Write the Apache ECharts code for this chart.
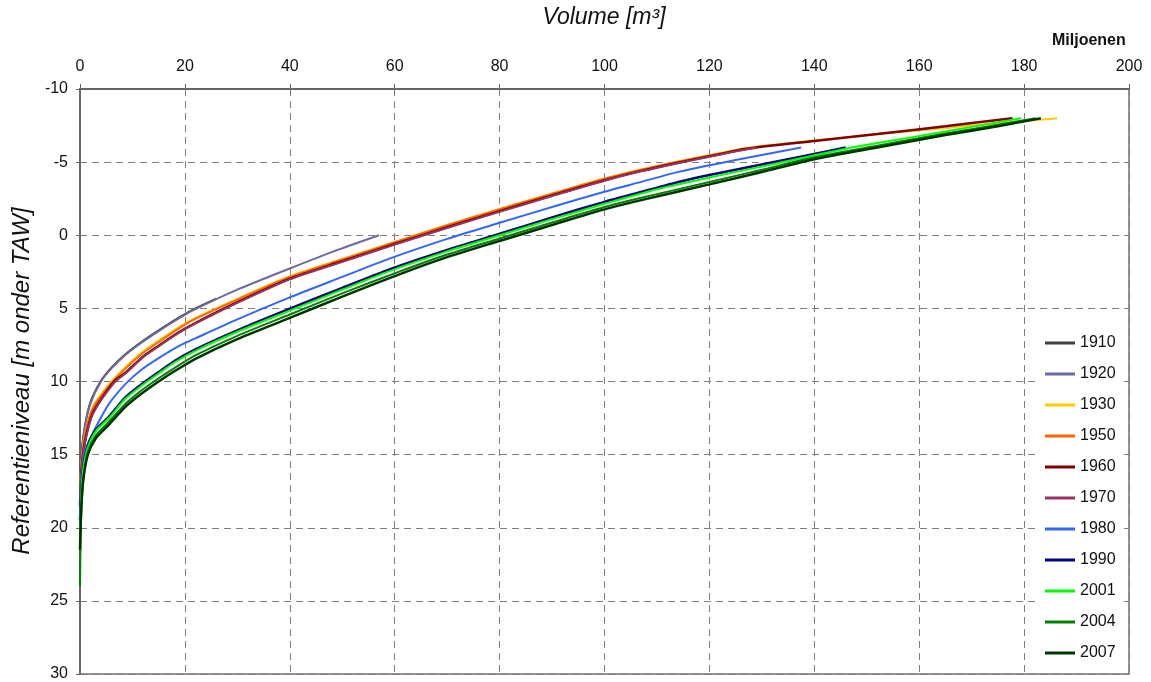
<!DOCTYPE html>
<html>
<head>
<meta charset="utf-8">
<script src="https://cdn.jsdelivr.net/npm/echarts@6/dist/echarts.min.js"></script>
<style>
html,body{margin:0;padding:0;background:#fff;}
#chart{width:1151px;height:682px;}
</style>
</head>
<body>
<div id="chart"></div>
<script>
// ---- data: [volume (miljoen m³), referentieniveau (m onder TAW)] ----
const years = ['1910','1920','1930','1950','1960','1970','1980','1990','2001','2004','2007'];
const xTicks = [0,20,40,60,80,100,120,140,160,180,200];
const yTicks = [-10,-5,0,5,10,15,20,25,30];

const d1910 = [[0,16.5],[0.3,14.8],[1,12.9],[2,11.4],[4,9.95],[6,9.05],[8.6,8.15],[11.7,7.3],[15,6.5],[19,5.6],[22,5.0],[26,4.33]];
const d1920 = [[0,17],[0.3,15],[1,13],[2,11.5],[4,10],[6,9.1],[8.6,8.2],[11.7,7.35],[15,6.55],[19,5.65],[22,5.05],[30,3.72],[40,2.27],[48,1.15],[57,0]];
const d1930 = [[0,18],[0.3,15.5],[1,13.5],[2.5,11.7],[6,10],[9,8.9],[12,7.95],[15,7.2],[19,6.25],[22,5.65],[30,4.35],[40,2.8],[50,1.62],[60,0.45],[70,-0.7],[80,-1.8],[90,-2.85],[100,-3.88],[107,-4.5],[114,-5.05],[121,-5.55],[127,-5.97],[140,-6.48],[155,-7.0],[170,-7.5],[186.3,-8.0]];
const d1950 = [[0,18],[0.3,15.6],[1,13.6],[2.5,11.8],[6,10.1],[9,9.0],[12,8.05],[15,7.3],[19,6.33],[22,5.72],[30,4.4],[40,2.85],[50,1.66],[60,0.48],[70,-0.68],[80,-1.78],[90,-2.83],[100,-3.86],[107,-4.48],[114,-5.03],[121,-5.53],[129,-5.97]];
const d1960 = [[0,18.5],[0.3,16],[1,14],[2.5,12.1],[6.5,10],[9,9.3],[12,8.3],[15,7.55],[19,6.6],[22,6.0],[30,4.58],[40,2.97],[50,1.78],[60,0.6],[70,-0.55],[80,-1.65],[90,-2.72],[100,-3.76],[107,-4.4],[114,-4.96],[121,-5.47],[127,-5.92],[140,-6.45],[152,-6.92],[165,-7.45],[177.8,-8.0]];
const d1970 = [[0,18.5],[0.3,16.1],[1,14.1],[2.5,12.2],[6.5,10.1],[9,9.35],[12,8.35],[15,7.6],[19,6.65],[22,6.05],[30,4.63],[40,3.02],[50,1.82],[60,0.64],[70,-0.5],[80,-1.6],[90,-2.68],[100,-3.73],[107,-4.37],[114,-4.93],[121,-5.44],[129,-6.02]];
const d1980 = [[0,18.5],[0.3,16.5],[1,14.7],[2.2,13.7],[5.4,11.6],[8.6,10.2],[11.7,9.2],[15,8.4],[19,7.55],[22,7.05],[30,5.75],[40,4.25],[50,2.85],[59,1.6],[70,0.25],[80,-0.85],[90,-1.93],[100,-2.98],[107,-3.65],[114.3,-4.35],[125,-5.15],[137.5,-6.0]];
const d1990 = [[0,19.5],[0.2,17.8],[0.6,15.9],[1.5,14.4],[3,13.3],[5.4,12.45],[8.6,11.1],[11.7,10.2],[15,9.35],[18,8.6],[22,7.8],[30,6.5],[40,5.02],[50,3.6],[59,2.33],[70,1.0],[80,-0.1],[90,-1.22],[100,-2.28],[107,-2.96],[114.3,-3.66],[120,-4.12],[133.3,-5.08],[140,-5.55],[146,-6.0]];
const d2001 = [[0,20.5],[0.2,18],[0.6,16],[1.5,14.5],[3,13.4],[5.4,12.55],[8.6,11.2],[11.7,10.3],[15,9.45],[18,8.7],[22,7.9],[30,6.6],[40,5.15],[50,3.72],[59,2.45],[70,1.1],[80,0],[90,-1.1],[100,-2.15],[110,-3.15],[120,-3.95],[133,-4.92],[146.7,-5.97],[152.4,-6.32],[165,-7.1],[179.4,-8.0]];
const d2004 = [[0,24],[0.1,21],[0.3,18.5],[0.7,16.5],[1.5,14.8],[3,13.7],[5.4,12.8],[8.6,11.55],[11.7,10.62],[15,9.78],[18,9.08],[22,8.22],[30,6.88],[40,5.42],[50,3.97],[61,2.47],[70,1.32],[80,0.22],[90,-0.87],[100,-1.93],[107,-2.56],[120,-3.64],[130,-4.48],[140,-5.33],[152,-6.12],[165,-6.96],[175,-7.55],[182.2,-8.0]];
const d2007 = [[0,21.5],[0.2,19],[0.6,16.8],[1.5,15],[3,13.9],[5.4,13.0],[8.6,11.75],[11.7,10.84],[15,10.0],[18,9.3],[22,8.45],[30,7.1],[40,5.65],[50,4.2],[61,2.66],[70,1.5],[80,0.39],[90,-0.7],[100,-1.77],[107,-2.4],[120,-3.48],[130,-4.33],[140,-5.2],[152,-6.0],[165,-6.85],[175,-7.45],[183.2,-8.0]];

const seriesData = [d1910,d1920,d1930,d1950,d1960,d1970,d1980,d1990,d2001,d2004,d2007];

// ---- styles ----
const colors = ['#3f3f3f','#6b6b9e','#ffcc00','#ff6600','#800000','#993366','#3366ff','#000080','#00ff00','#008000','#003300'];
const widths = [2,2,2,2,2.5,2,2,2.5,2,2,2.5];
const FONT = '"Liberation Sans", Arial, sans-serif';

const chart = echarts.init(document.getElementById('chart'), null, {renderer:'canvas'});
chart.setOption({
  animation:false,
  backgroundColor:'#ffffff',
  grid:{left:80,right:22,top:89,bottom:6,show:true,borderColor:'#707070',borderWidth:1.5,backgroundColor:'transparent'},
  xAxis:{
    type:'value', position:'top', min:xTicks[0], max:xTicks[xTicks.length-1], interval:20,
    axisLine:{show:true,onZero:false,lineStyle:{color:'#666',width:2}},
    axisTick:{show:true,length:5,lineStyle:{color:'#666',width:1}},
    axisLabel:{color:'#111',fontSize:16,fontFamily:FONT,margin:14},
    splitLine:{show:true,lineStyle:{color:'#808080',type:[7,5],width:1}}
  },
  yAxis:{
    type:'value', inverse:true, min:yTicks[0], max:yTicks[yTicks.length-1], interval:5,
    axisLine:{show:true,onZero:false,lineStyle:{color:'#666',width:2}},
    axisTick:{show:true,length:4,lineStyle:{color:'#666',width:1}},
    axisLabel:{color:'#111',fontSize:16,fontFamily:FONT,margin:12},
    splitLine:{show:true,lineStyle:{color:'#808080',type:[7,5],width:1}}
  },
  legend:{
    orient:'vertical', left:1040, top:327,
    backgroundColor:'#ffffff', padding:[8,6,8,5],
    icon:'path://M0,0 L30,0 L30,3 L0,3 Z',
    itemWidth:30, itemHeight:3, itemGap:15, itemTextGap:4,
    textStyle:{fontSize:16,fontFamily:FONT,color:'#111',lineHeight:16},
    data:years
  },
  graphic:[
    {type:'text',x:604,y:18,style:{text:'Volume [m³]',fontSize:23,fontStyle:'italic',fontFamily:FONT,fill:'#111',align:'center',verticalAlign:'middle'}},
    {type:'text',left:1052,top:33,style:{text:'Miljoenen',fontSize:16,fontWeight:'bold',fontFamily:FONT,fill:'#111'}},
    {type:'text',x:22,y:381,rotation:Math.PI/2,style:{text:'Referentieniveau [m onder TAW]',fontSize:24,fontStyle:'italic',fontFamily:FONT,fill:'#111',align:'center',verticalAlign:'middle'}}
  ],
  series: years.map((y,i)=>({
    name:y, type:'line', data:seriesData[i], symbol:'none', smooth:0.25,
    lineStyle:{color:colors[i],width:widths[i]}, itemStyle:{color:colors[i]}
  }))
});
</script>
</body>
</html>
